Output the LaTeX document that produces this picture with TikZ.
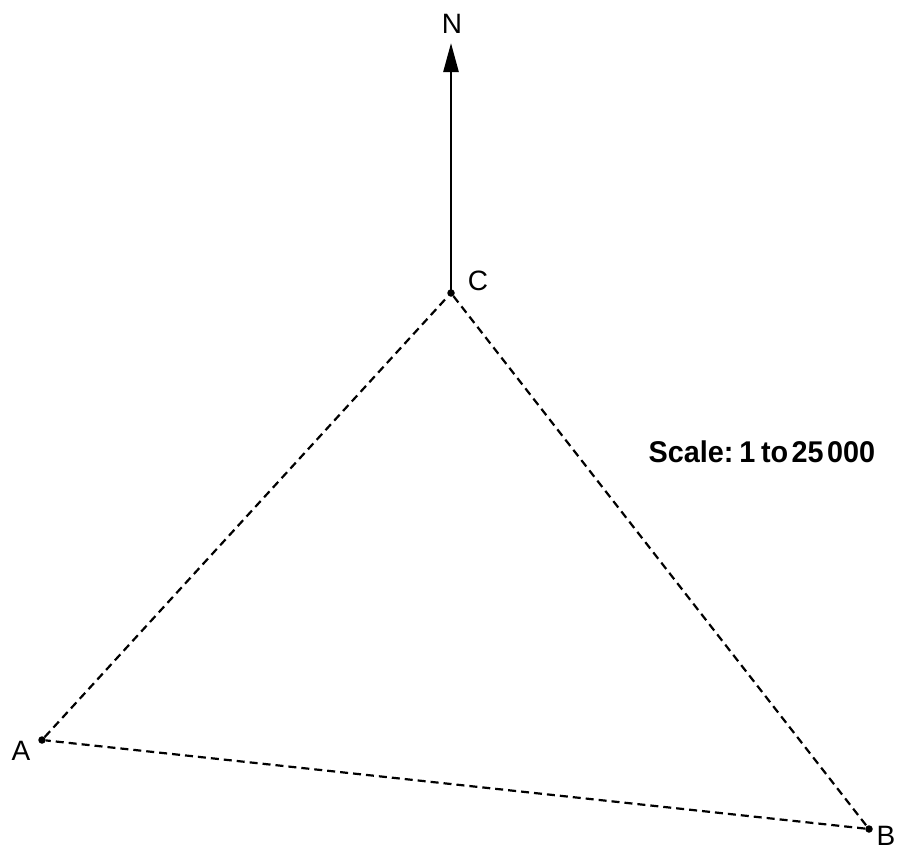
\documentclass[tikz,border=0pt]{standalone}
\usepackage{fontspec}
\setmainfont{Liberation Sans}
\usetikzlibrary{arrows.meta,positioning}

\begin{document}
\begin{tikzpicture}[x=1pt,y=-1pt,>={Triangle[length=29pt,width=15pt]}]
  \tikzset{pt/.style={circle,fill,inner sep=0pt,minimum size=7.5pt},
    lbl/.style={font=\fontsize{28}{30}\selectfont,inner sep=0pt},
    side/.style={dash pattern=on 8pt off 5pt,line width=2.2pt}}
  \useasboundingbox (0,0) rectangle (899,854);
  % survey points
  \node[pt] (C) at (451,293) {};
  \node[pt] (A) at (42,740) {};
  \node[pt] (B) at (869,829) {};
  \coordinate (north) at (451,43);
  \foreach \p/\x/\y in {C/478/281,A/21/751,B/886/836} {\node[lbl] (l\p) at (\x,\y) {\p};}
  \node[lbl] (lN) at (452,24) {N};
  \draw[->,line width=2.6pt] (C.center) -- (north);
  \draw[side] (A) -- (C) -- (B) -- (A);
  \node[font=\bfseries\fontsize{30}{32}\selectfont,inner sep=0pt] (scale) at (762,452)
    {\scalebox{0.96}[1]{Scale:\hspace{0.2em}1\hspace{0.2em}to\hspace{0.12em}25\hspace{0.12em}000}};
\end{tikzpicture}
\end{document}
